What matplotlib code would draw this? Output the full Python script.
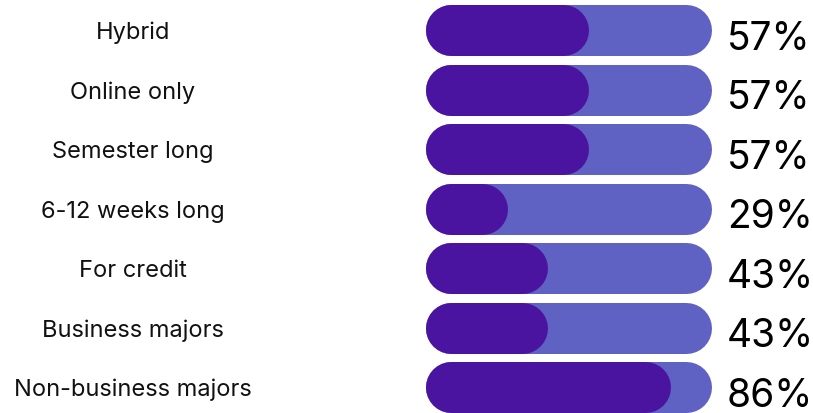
import matplotlib.pyplot as plt

labels = ["Hybrid", "Online only", "Semester long", "6-12 weeks long",
          "For credit", "Business majors", "Non-business majors"]
values = [57, 57, 57, 29, 43, 43, 86]

dark = "#4A14A0"
light = "#5F62C2"

W, H = 813, 414
fig = plt.figure(figsize=(W / 100, H / 100), dpi=100)
ax = fig.add_axes([0, 0, 1, 1])
ax.set_xlim(0, W)
ax.set_ylim(H, 0)
ax.axis("off")

x0 = 425
full = 286
bh = 51          # bar height in px
r = bh / 2
lw = bh * 72 / 100   # px -> points
top = 31
step = 59.5

for i, (lab, v) in enumerate(zip(labels, values)):
    yc = top + i * step
    # pill shapes: thick lines with round caps
    ax.plot([x0 + r, x0 + full - r], [yc, yc], color=light, lw=lw,
            solid_capstyle="round")
    w = full * v / 100
    ax.plot([x0 + r, x0 + w - r], [yc, yc], color=dark, lw=lw,
            solid_capstyle="round")
    ax.text(133, yc + 8.5, lab, ha="center", va="baseline", fontsize=17,
            family="Inter", color="#111111")
    ax.text(727, yc + 19, f"{v}%", ha="left", va="baseline", fontsize=28,
            family="Inter", color="#000000")

fig.savefig("out.png", dpi=100)
